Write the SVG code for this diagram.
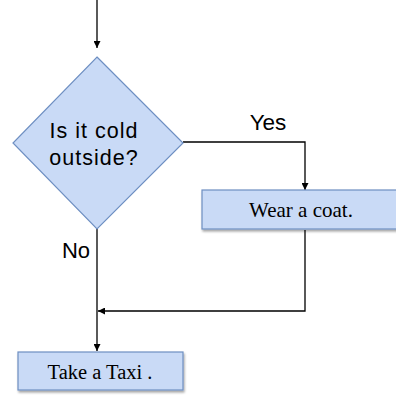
<svg xmlns="http://www.w3.org/2000/svg" width="396" height="397" viewBox="0 0 396 397">
<defs>
<marker id="ah" viewBox="0 0 10 10" refX="10" refY="5" markerWidth="7" markerHeight="7" markerUnits="userSpaceOnUse" orient="auto"><path d="M0,0 L10,5 L0,10 z" fill="#000"/></marker>
<filter id="sh" x="-10%" y="-10%" width="130%" height="140%"><feDropShadow dx="1" dy="2" stdDeviation="1.2" flood-color="#000" flood-opacity="0.35"/></filter>
<style>
.shape{fill:#c9daf6;stroke:#6e8fc2;stroke-width:1.2}
.edge{fill:none;stroke:#000;stroke-width:1.3}
.sans{font-family:"Liberation Sans",Arial,sans-serif;fill:#000}
.serif{font-family:"Liberation Serif","Times New Roman",serif;fill:#000}
</style>
</defs>
<g id="connectors">
<path class="edge" d="M97,0 V48" marker-end="url(#ah)"/>
<path class="edge" d="M183,142 H305 V190" marker-end="url(#ah)"/>
<path class="edge" d="M97,229 V351" marker-end="url(#ah)"/>
<path class="edge" d="M305,230 V311 H98" marker-end="url(#ah)"/>
</g>
<g id="decision">
<polygon class="shape" points="97,57 183,143 97,229 13,143"/>
<text class="sans" x="94" y="138" font-size="21.5" letter-spacing="1" text-anchor="middle">Is it cold</text>
<text class="sans" x="94" y="165" font-size="21.5" letter-spacing="1" text-anchor="middle">outside?</text>
</g>
<g id="yes-label"><text class="sans" x="268" y="130" font-size="22.5" text-anchor="middle">Yes</text></g>
<g id="no-label"><text class="sans" x="76" y="258" font-size="22" text-anchor="middle">No</text></g>
<g id="wear-coat">
<rect class="shape" x="202" y="190" width="196" height="39" filter="url(#sh)"/>
<text class="serif" x="301" y="217" font-size="21" text-anchor="middle">Wear a coat.</text>
</g>
<g id="take-taxi">
<rect class="shape" x="18" y="352" width="165" height="38" filter="url(#sh)"/>
<text class="serif" x="100" y="379" font-size="20.5" text-anchor="middle">Take a Taxi .</text>
</g>
</svg>
